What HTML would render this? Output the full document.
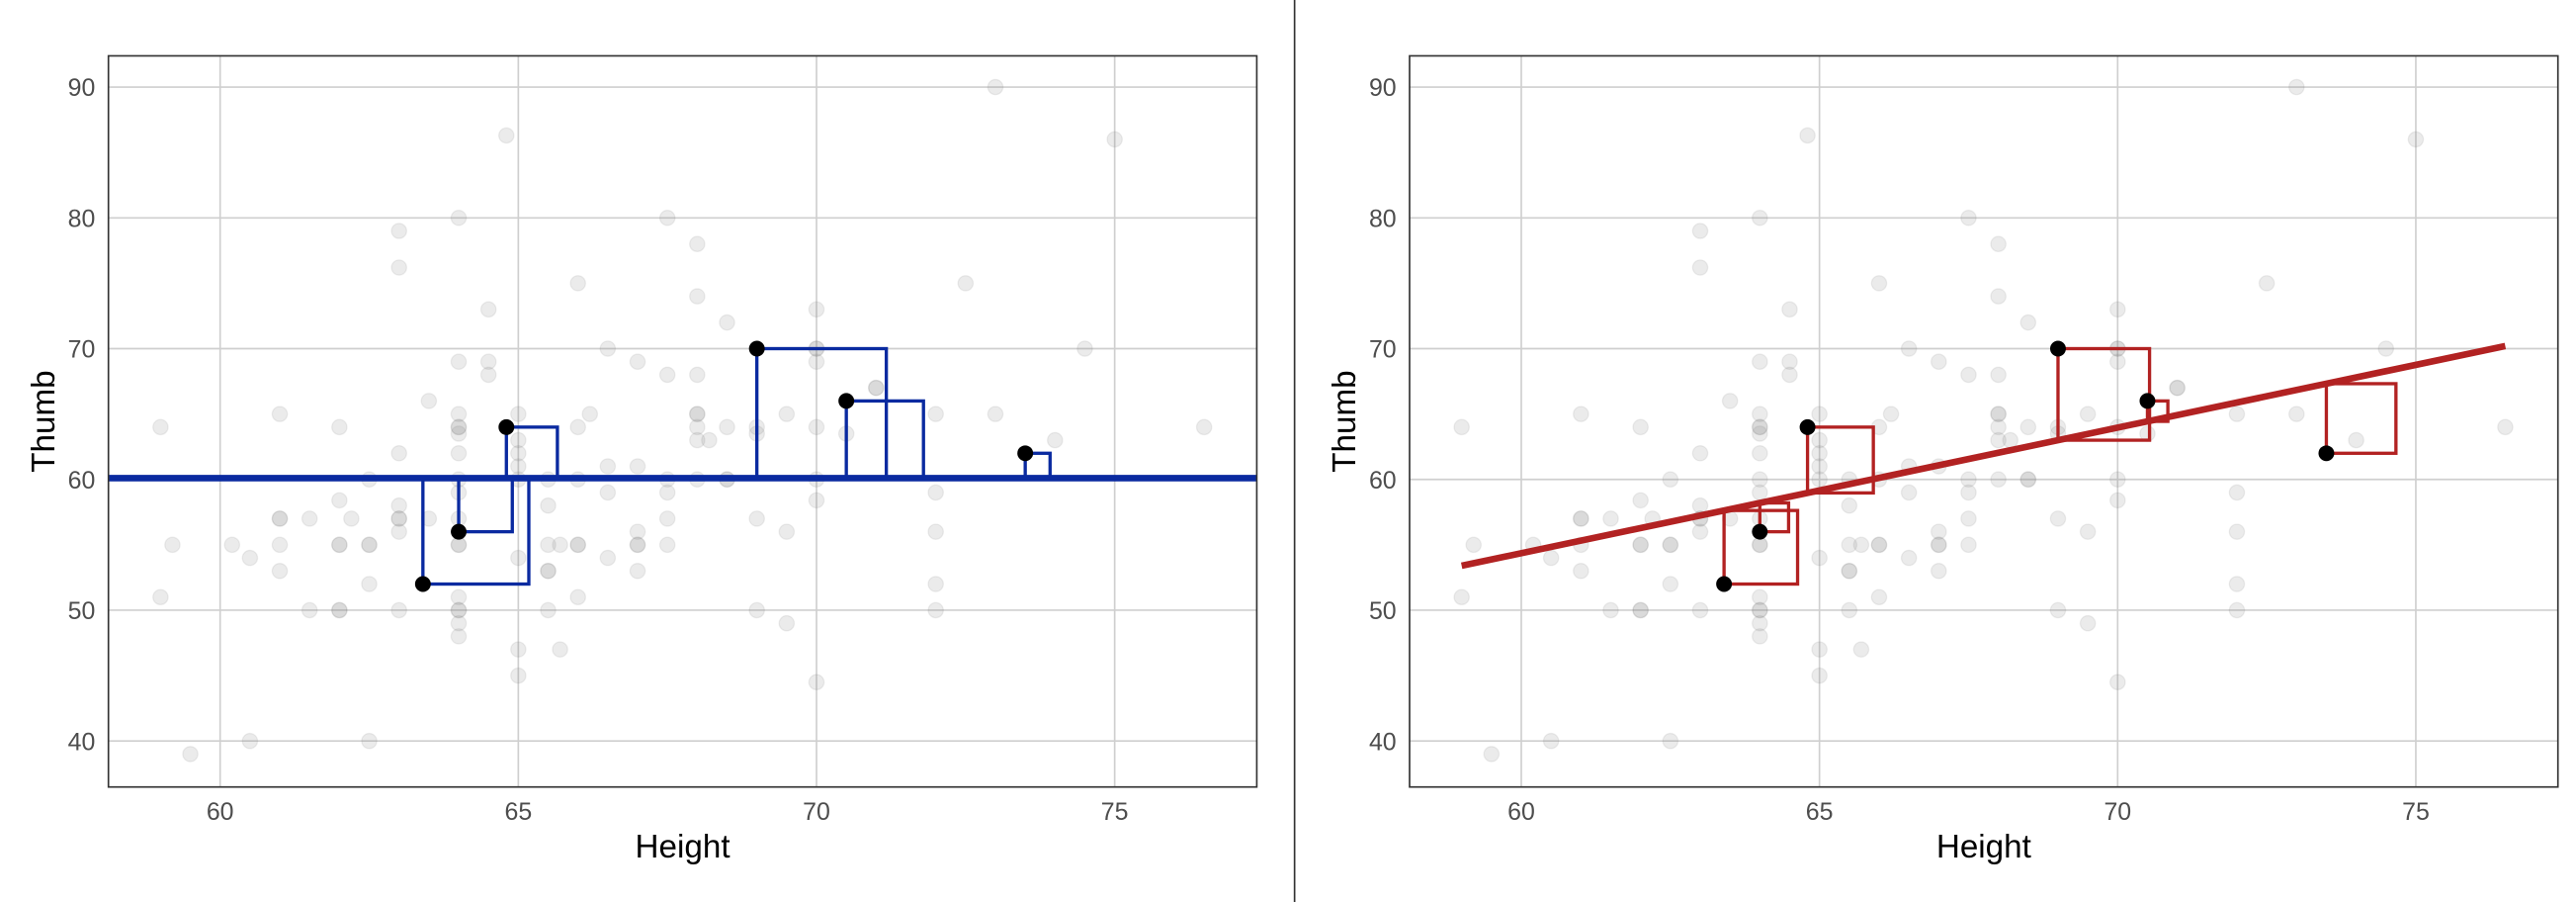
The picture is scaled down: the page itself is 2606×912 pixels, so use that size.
<!DOCTYPE html>
<html><head><meta charset="utf-8"><style>
html,body{margin:0;padding:0;background:#fff;}
svg{display:block;}
text{font-family:"Liberation Sans",sans-serif;}
</style></head><body>
<svg id="s" width="2606" height="912" viewBox="0 0 1568 549" preserveAspectRatio="none" xmlns="http://www.w3.org/2000/svg">
<rect width="1568" height="549" fill="#fff"/>
<line x1="788" y1="0" x2="788" y2="549" stroke="#333" stroke-width="1"/>
</svg>
<script>
var s=document.getElementById('s'),NS='http://www.w3.org/2000/svg';
function el(t,a,txt){var e=document.createElementNS(NS,t);for(var k in a)e.setAttribute(k,a[k]);if(txt!=null)e.textContent=txt;s.appendChild(e);return e;}
var pts=[[59,64],[59.2,55],[59,51],[59.5,39],[60.2,55],[60.5,54],[60.5,40],[61,65],[61,57],[61,55],[61,53],[61,57],[61.5,57],[61.5,50],[62,64],[62,58.4],[62,55],[62,55],[62,50],[62,50],[62.2,57],[62.5,60],[62.5,55],[62.5,55],[62.5,52],[62.5,40],[63,79],[63,76.2],[63,62],[63,57],[63,57],[63,56],[63,58],[63,50],[63.5,66],[63.5,57],[64,80],[64,69],[64,65],[64,64],[64,64],[64,63.5],[64,62],[64,60],[64,59],[64,57],[64,55],[64,55],[64,51],[64,50],[64,50],[64,49],[64,48],[64.5,73],[64.5,69],[64.5,68],[64.8,86.3],[65,65],[65,63],[65,62],[65,61],[65,60],[65,54],[65,47],[65,45],[65.5,60],[65.5,58],[65.5,55],[65.5,53],[65.5,53],[65.5,50],[65.7,55],[65.7,47],[66,75],[66,64],[66,60],[66,55],[66,55],[66,51],[66.2,65],[66.5,70],[66.5,61],[66.5,59],[66.5,54],[67,69],[67,61],[67,56],[67,55],[67,55],[67,53],[67.5,80],[67.5,68],[67.5,60],[67.5,59],[67.5,57],[67.5,55],[68,78],[68,74],[68,68],[68,65],[68,65],[68,64],[68,63],[68.2,63],[68,60],[68.5,72],[68.5,64],[68.5,60],[68.5,60],[69,64],[69,63.5],[69,57],[69,50],[69.5,65],[69.5,56],[69.5,49],[70,73],[70,70],[70,70],[70,69],[70,64],[70,60],[70,58.4],[70,44.5],[70.5,63.5],[71,67],[71,67],[72,65],[72,59],[72,56],[72,52],[72,50],[72.5,75],[73,90],[73,65],[74,63],[74.5,70],[75,86],[76.5,64]];
var hl=[[63.4,52],[64,56],[64.8,64],[69,70],[70.5,66],[73.5,62]];
var PX=36.3,PY=7.96;
function panel(off,right){
  var L=66+off,R=765+off,T=34,B=479;
  function X(x){return 134+off+(x-60)*PX;}
  function Y(y){return 53+(90-y)*PY;}
  [60,65,70,75].forEach(function(v){el('line',{x1:X(v),x2:X(v),y1:T,y2:B,stroke:'#cfcfcf','stroke-width':1});
    el('text',{x:X(v),y:499,'text-anchor':'middle','font-size':15,fill:'#4d4d4d'},v);});
  [40,50,60,70,80,90].forEach(function(v){el('line',{x1:L,x2:R,y1:Y(v),y2:Y(v),stroke:'#cfcfcf','stroke-width':1});
    el('text',{x:L-8,y:Y(v)+5.5,'text-anchor':'end','font-size':15,fill:'#4d4d4d'},v);});
  pts.forEach(function(p){el('circle',{cx:X(p[0]),cy:Y(p[1]),r:4.6,fill:'rgba(120,120,120,0.15)',stroke:'rgba(120,120,120,0.12)','stroke-width':0.8});});
  var col=right?'#b22222':'#0a2aa0';
  function pred(x){return right?53.4+0.96*(x-59):60.1;}
  hl.forEach(function(p){var px=X(p[0]),py=Y(p[1]),ly=Y(pred(p[0]));var side=Math.abs(ly-py);
    var y0=Math.min(py,ly);
    el('rect',{x:px,y:y0,width:side,height:side,fill:'none',stroke:col,'stroke-width':2});});
  if(right){el('line',{x1:X(59),y1:Y(53.4),x2:X(76.5),y2:Y(53.4+0.96*17.5),stroke:col,'stroke-width':4});}
  else{el('line',{x1:L,x2:R,y1:Y(60.1),y2:Y(60.1),stroke:col,'stroke-width':4});}
  hl.forEach(function(p){el('circle',{cx:X(p[0]),cy:Y(p[1]),r:4.8,fill:'#000'});});
  el('rect',{x:L,y:T,width:R-L,height:B-T,fill:'none',stroke:'#333','stroke-width':1});
  el('text',{x:(L+R)/2,y:522,'text-anchor':'middle','font-size':20,fill:'#000'},'Height');
  var t=el('text',{x:0,y:0,'text-anchor':'middle','font-size':20,fill:'#000',transform:'translate('+(33+off)+','+((T+B)/2)+') rotate(-90)'},'Thumb');
}
panel(0,false);panel(792,true);
</script>
</body></html>
